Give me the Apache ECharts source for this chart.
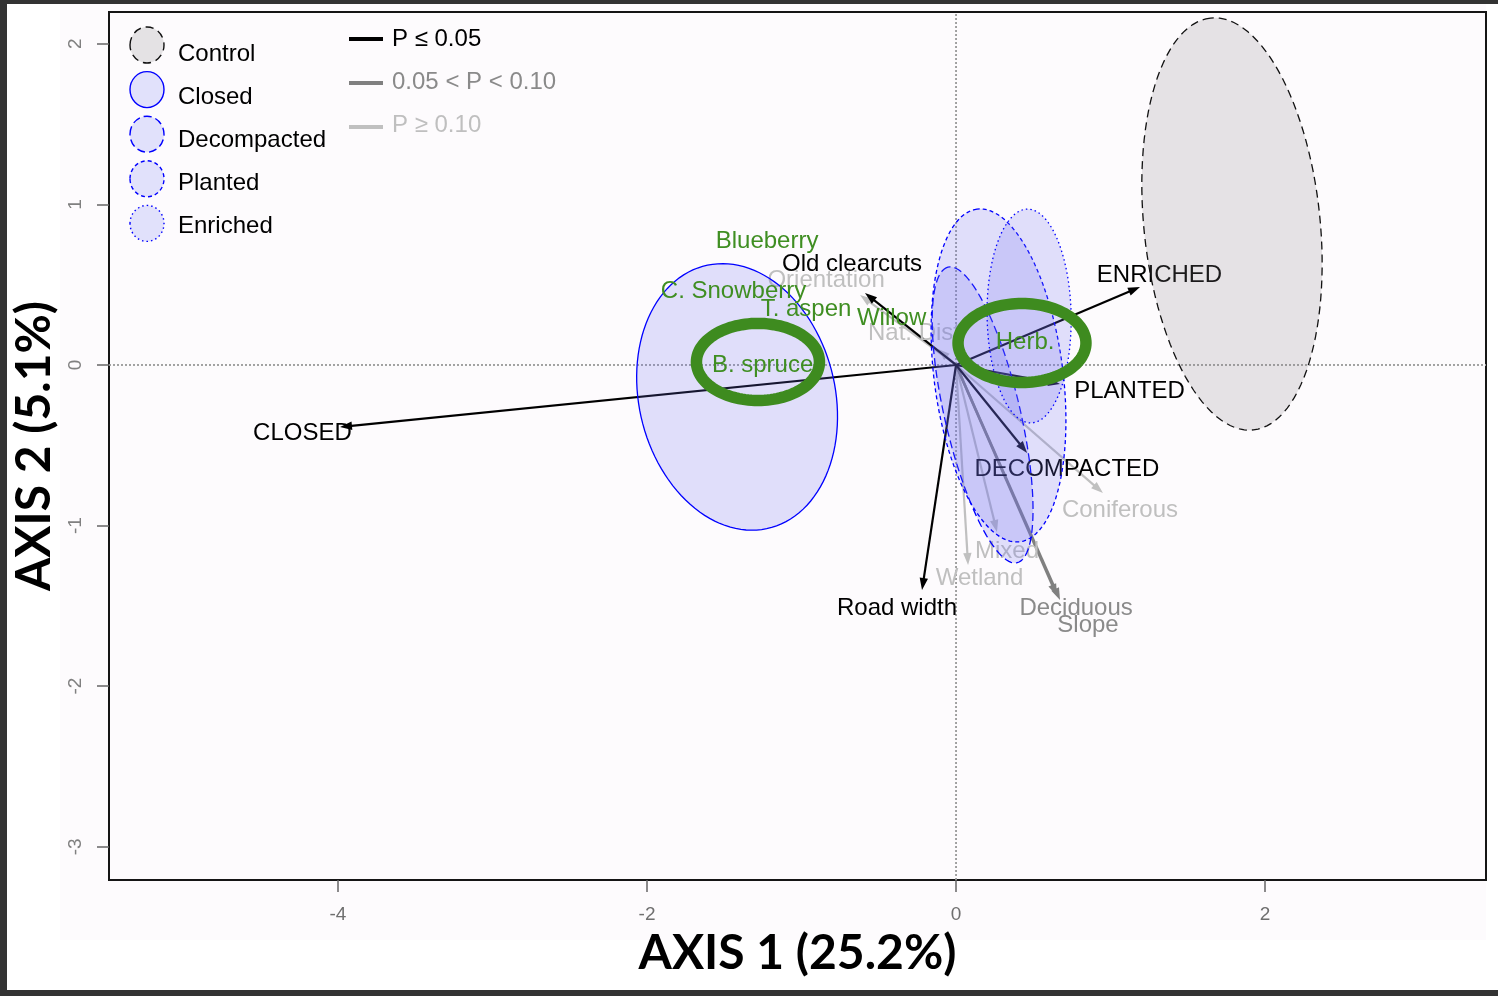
<!DOCTYPE html>
<html>
<head>
<meta charset="utf-8">
<script src="https://cdn.jsdelivr.net/npm/echarts@6/dist/echarts.min.js"></script>
<style>
  html, body { margin: 0; padding: 0; background: #ffffff; }
  #chart { width: 1498px; height: 996px; }
</style>
</head>
<body>
<div id="chart"></div>
<script>
// Axis extents and tick positions
const xRange = [-5.482, 3.43];
const yRange = [-3.207, 2.198];
const xTicks = [-4, -2, 0, 2];
const yTicks = [-3, -2, -1, 0, 1, 2];

// Treatment groups: ellipse centres, semi-axes and rotation (degrees)
const groupNames = ['Control', 'Closed', 'Decompacted', 'Planted', 'Enriched'];
const groupCenterX = [1.786, -1.417, 0.172, 0.275, 0.473];
const groupCenterY = [0.878, -0.199, -0.311, -0.065, 0.305];
const groupMajor = [1.29, 0.843, 0.947, 1.045, 0.666];
const groupMinor = [0.57, 0.633, 0.244, 0.417, 0.272];
const groupAngle = [96.2, 105.4, 103.7, 97.7, 91];

// Fitted vectors: tips, label positions and significance class
// (0: P <= 0.05, 1: 0.05 < P < 0.10, 2: P >= 0.10)
const vectorNames = ['CLOSED', 'ENRICHED', 'PLANTED', 'DECOMPACTED', 'Old clearcuts', 'Road width',
  'Deciduous', 'Slope', 'Orientation', 'Nat. Dist', 'Coniferous', 'Wetland', 'Mixed'];
const vectorX = [-3.987, 1.191, 0.673, 0.460, -0.589, -0.220, 0.673, 0.654, -0.621, -0.117, 0.951, 0.078, 0.265];
const vectorY = [-0.386, 0.486, -0.118, -0.548, 0.448, -1.401, -1.463, -1.438, 0.436, 0.100, -0.797, -1.245, -1.040];
const vectorClass = [0, 0, 0, 0, 0, 0, 1, 1, 2, 2, 2, 2, 2];
const vectorLabelX = [-4.230, 1.317, 1.123, 0.718, -0.673, -0.382, 0.777, 0.854, -0.841, -0.272, 1.061, 0.152, 0.330];
const vectorLabelY = [-0.423, 0.560, -0.162, -0.648, 0.629, -1.513, -1.513, -1.619, 0.529, 0.199, -0.903, -1.326, -1.158];

// Species scores
const speciesNames = ['Blueberry', 'C. Snowberry', 'T. aspen', 'Willow', 'B. spruce', 'Herb.'];
const speciesX = [-1.223, -1.440, -0.971, -0.417, -1.252, 0.447];
const speciesY = [0.772, 0.461, 0.349, 0.293, 0.000, 0.143];

// Highlighted species rings
const highlightX = [-1.282, 0.427];
const highlightY = [0.019, 0.137];
const highlightRx = [0.398, 0.414];
const highlightRy = [0.240, 0.246];

// Significance legend
const sigLabels = ['P \u2264 0.05', '0.05 < P < 0.10', 'P \u2265 0.10'];

// ---- styles ----
const LABEL_FONT = '24px "Liberation Sans", Arial, sans-serif';
const classColors = ['#000000', '#808080', '#c0c0c0'];
const classTextColors = ['#000000', '#8a8a8a', '#bfbfbf'];
const classWidths = [2.2, 2.6, 2.2];
const groupStroke = ['#111111', '#0000ff', '#0000ff', '#0000ff', '#0000ff'];
const groupDash = [[8, 5], null, [8, 4], [4, 3], [1.5, 3]];
const groupFill = ['rgba(135,128,135,0.2)', 'rgba(112,112,242,0.2)', 'rgba(112,112,242,0.2)',
  'rgba(112,112,242,0.2)', 'rgba(112,112,242,0.2)'];
const groupLegendFill = ['#e4e2e4', '#e1e1fb', '#e1e1fb', '#e1e1fb', '#e1e1fb'];
const GREEN_TEXT = '#3f8e22';
const GREEN_RING = '#3e8b1f';

function ellipsePoints(cx, cy, a, b, deg, api) {
  const t = deg * Math.PI / 180, c = Math.cos(t), s = Math.sin(t);
  const pts = [];
  const n = 120;
  for (let k = 0; k < n; k++) {
    const u = 2 * Math.PI * k / n;
    const ex = a * Math.cos(u), ey = b * Math.sin(u);
    pts.push(api.coord([cx + ex * c - ey * s, cy + ex * s + ey * c]));
  }
  return pts;
}

// draw lighter vectors first so significant ones sit on top
const vectorOrder = vectorNames.map((_, i) => i).sort((a, b) => vectorClass[b] - vectorClass[a]);

const chart = echarts.init(document.getElementById('chart'), null, { renderer: 'canvas' });

const legendGraphics = [];
groupNames.forEach((name, i) => {
  legendGraphics.push({
    type: 'ellipse', z: 100,
    shape: { cx: 147, cy: 45 + i * 44.6, rx: 17, ry: 18 },
    style: { fill: groupLegendFill[i], stroke: groupStroke[i], lineWidth: 1.4, lineDash: groupDash[i] }
  });
  legendGraphics.push({
    type: 'text', z: 100, x: 178, y: 54 + i * 43,
    style: { text: name, fill: '#000', font: LABEL_FONT, textAlign: 'left', textVerticalAlign: 'middle' }
  });
});
sigLabels.forEach((txt, i) => {
  legendGraphics.push({
    type: 'line', z: 100,
    shape: { x1: 349, y1: 39 + i * 44, x2: 383, y2: 39 + i * 44 },
    style: { stroke: classColors[i], lineWidth: 4 }
  });
  legendGraphics.push({
    type: 'text', z: 100, x: 392, y: 39 + i * 43,
    style: { text: txt, fill: classTextColors[i], font: LABEL_FONT, textAlign: 'left', textVerticalAlign: 'middle' }
  });
});

const option = {
  backgroundColor: '#ffffff',
  animation: false,
  graphic: [
    { type: 'rect', z: -10, shape: { x: 60, y: 4, width: 1426, height: 936 }, style: { fill: '#fdfbfd' } },
    { type: 'rect', z: 200, shape: { x: 0, y: 0, width: 1498, height: 4 }, style: { fill: '#333333' } },
    { type: 'rect', z: 200, shape: { x: 0, y: 0, width: 7, height: 996 }, style: { fill: '#333333' } },
    { type: 'rect', z: 200, shape: { x: 0, y: 990, width: 1498, height: 6 }, style: { fill: '#333333' } }
  ].concat(legendGraphics),
  grid: {
    left: 109, right: 12, top: 12, bottom: 116,
    containLabel: false, outerBoundsMode: 'none',
    show: true, backgroundColor: '#fdfbfd', borderColor: '#151515', borderWidth: 2
  },
  xAxis: {
    type: 'value', min: xRange[0], max: xRange[1],
    splitLine: { show: false },
    axisLine: { show: true, onZero: false, lineStyle: { color: '#151515', width: 2 } },
    axisTick: { show: true, inside: false, customValues: xTicks, length: 12, lineStyle: { color: '#666', width: 1.5 } },
    axisLabel: { customValues: xTicks, margin: 25, color: '#6f6f6f', fontSize: 19, fontFamily: '"Liberation Sans", Arial, sans-serif' },
    name: 'AXIS 1 (25.2%)', nameLocation: 'middle', nameGap: 50,
    nameTextStyle: { fontFamily: 'Lato, "Liberation Sans", sans-serif', fontWeight: 'bold', fontSize: 48, color: '#000' }
  },
  yAxis: {
    type: 'value', min: yRange[0], max: yRange[1],
    splitLine: { show: false },
    axisLine: { show: true, onZero: false, lineStyle: { color: '#151515', width: 2 } },
    axisTick: { show: true, inside: false, customValues: yTicks, length: 12, lineStyle: { color: '#666', width: 1.5 } },
    axisLabel: { customValues: yTicks, rotate: 90, margin: 24, color: '#808080', fontSize: 19, fontFamily: '"Liberation Sans", Arial, sans-serif' },
    name: 'AXIS 2 (5.1%)', nameLocation: 'middle', nameGap: 41,
    nameTextStyle: { fontFamily: 'Lato, "Liberation Sans", sans-serif', fontWeight: 'bold', fontSize: 48, color: '#000' }
  },
  series: [
    // dotted reference lines through the origin
    {
      type: 'custom', silent: true, z: 2,
      data: [[0, 0]], encode: { x: 0, y: 1 },
      renderItem(params, api) {
        const a = api.coord([xRange[0], 0]), b = api.coord([xRange[1], 0]);
        const c = api.coord([0, yRange[0]]), d = api.coord([0, yRange[1]]);
        const st = { stroke: '#999999', lineWidth: 1.8, lineDash: [2, 2] };
        return {
          type: 'group', children: [
            { type: 'line', shape: { x1: a[0], y1: a[1], x2: b[0], y2: b[1] }, style: st },
            { type: 'line', shape: { x1: c[0], y1: c[1], x2: d[0], y2: d[1] }, style: st }
          ]
        };
      }
    },
    // fitted vectors
    {
      type: 'custom', silent: true, z: 3,
      data: vectorOrder.map(i => [vectorX[i], vectorY[i], i]), encode: { x: 0, y: 1 },
      renderItem(params, api) {
        const i = vectorOrder[params.dataIndex];
        const p0 = api.coord([0, 0]);
        const p1 = api.coord([vectorX[i], vectorY[i]]);
        const dx = p1[0] - p0[0], dy = p1[1] - p0[1];
        const L = Math.hypot(dx, dy), ux = dx / L, uy = dy / L;
        const head = 12, half = 4.2;
        const bx = p1[0] - ux * head, by = p1[1] - uy * head;
        const col = classColors[vectorClass[i]];
        return {
          type: 'group', children: [
            { type: 'line', shape: { x1: p0[0], y1: p0[1], x2: bx + ux * 3, y2: by + uy * 3 },
              style: { stroke: col, lineWidth: classWidths[vectorClass[i]] } },
            { type: 'polygon', shape: { points: [p1, [bx - uy * half, by + ux * half], [bx + uy * half, by - ux * half]] },
              style: { fill: col } }
          ]
        };
      }
    },
    // vector labels
    {
      type: 'custom', silent: true, z: 3,
      data: vectorNames.map((n, i) => [vectorLabelX[i], vectorLabelY[i]]), encode: { x: 0, y: 1 },
      renderItem(params, api) {
        const i = params.dataIndex;
        const p = api.coord([vectorLabelX[i], vectorLabelY[i]]);
        return {
          type: 'text', x: p[0], y: p[1],
          style: { text: vectorNames[i], fill: classTextColors[vectorClass[i]], font: LABEL_FONT,
            textAlign: 'center', textVerticalAlign: 'middle' }
        };
      }
    },
    // treatment ellipses
    {
      type: 'custom', silent: true, z: 4,
      data: groupNames.map((n, i) => [groupCenterX[i], groupCenterY[i]]), encode: { x: 0, y: 1 },
      renderItem(params, api) {
        const i = params.dataIndex;
        return {
          type: 'polygon',
          shape: { points: ellipsePoints(groupCenterX[i], groupCenterY[i], groupMajor[i], groupMinor[i], groupAngle[i], api) },
          style: { fill: groupFill[i], stroke: groupStroke[i], lineWidth: 1.3, lineDash: groupDash[i] }
        };
      }
    },
    // species scores
    {
      type: 'custom', silent: true, z: 5,
      data: speciesNames.map((n, i) => [speciesX[i], speciesY[i]]), encode: { x: 0, y: 1 },
      renderItem(params, api) {
        const i = params.dataIndex;
        const p = api.coord([speciesX[i], speciesY[i]]);
        return {
          type: 'text', x: p[0], y: p[1],
          style: { text: speciesNames[i], fill: GREEN_TEXT, font: LABEL_FONT, textAlign: 'center', textVerticalAlign: 'middle' }
        };
      }
    },
    // highlight rings
    {
      type: 'custom', silent: true, z: 6,
      data: highlightX.map((x, i) => [x, highlightY[i]]), encode: { x: 0, y: 1 },
      renderItem(params, api) {
        const i = params.dataIndex;
        return {
          type: 'polygon',
          shape: { points: ellipsePoints(highlightX[i], highlightY[i], highlightRx[i], highlightRy[i], 0, api) },
          style: { fill: 'none', stroke: GREEN_RING, lineWidth: 11.5 }
        };
      }
    }
  ]
};

chart.setOption(option);
</script>
</body>
</html>
